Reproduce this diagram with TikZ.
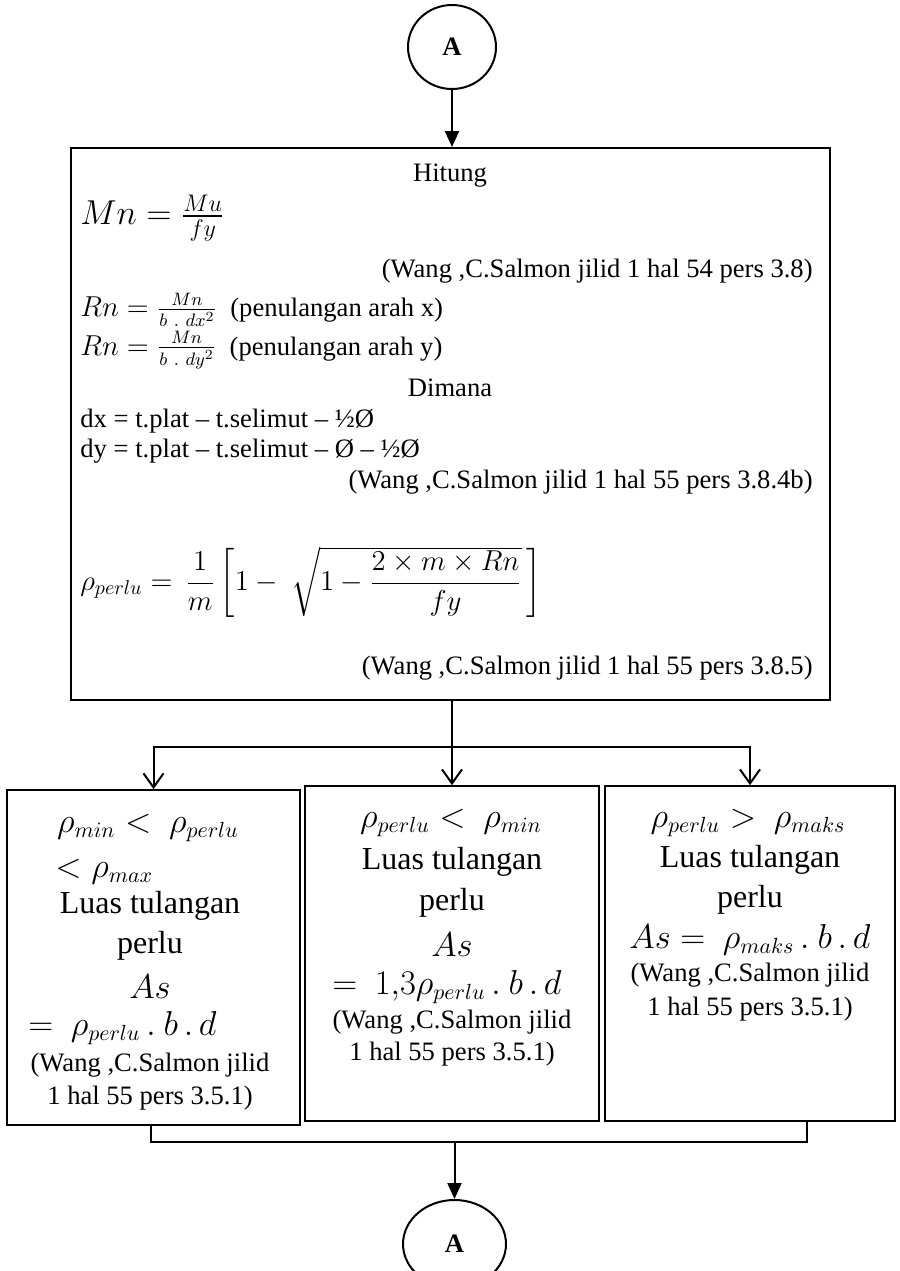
\documentclass[tikz,border=0pt]{standalone}
\usepackage{fontspec}
\setmainfont{Liberation Serif}
\usepackage{amsmath}
\usetikzlibrary{arrows.meta,shapes.geometric}
\begin{document}
\begin{tikzpicture}[x=0.5pt,y=-0.5pt,
  conn/.style={line width=1pt,line cap=rect},
  fillarrow/.style={conn,-{Triangle[length=8pt,width=7pt]}},
  barb/.style={conn,-{Straight Barb[length=7pt,width=10pt,line width=1pt]}},
  bigbox/.style={draw,line width=1pt,inner sep=0pt},
  subbox/.style={draw,line width=0.9pt,inner sep=0pt,minimum height=167.5pt},
  conn2/.style={ellipse,draw,line width=1pt,inner sep=0pt,font=\fontsize{13.3}{16}\selectfont\bfseries},
  tx/.style={inner sep=0pt,font=\fontsize{13.3}{16}\selectfont},
  bx/.style={inner sep=0pt,font=\fontsize{16}{19}\selectfont},
  cite/.style={inner sep=0pt,font=\fontsize{13.3}{16}\selectfont}]
\useasboundingbox (0,0) rectangle (900,1271);
\fill[white] (0,0) rectangle (900,1271);

% connector nodes
\node[conn2,minimum width=44pt,minimum height=42pt] (A1) at (452,47) {A};
\node[conn2,minimum width=51.5pt,minimum height=44pt] (A2) at (454.5,1244) {A};

% main box
\node[bigbox,minimum width=379.5pt,minimum height=276pt] (main) at (450.5,424) {};

\node[tx] (t1) at (450,176) {Hitung};
\node[tx,anchor=west,font=\fontsize{18}{21}\selectfont] (t2) at (80,218) {$Mn = \frac{Mu}{fy}$};
\node[tx,anchor=east] (t3) at (813,271) {(Wang ,C.Salmon jilid 1 hal 54 pers 3.8)};
\node[tx,anchor=west] (t4) at (80,310) {$Rn = \frac{Mn}{b\ .\ dx^2}$\ \ (penulangan arah x)};
\node[tx,anchor=west] (t5) at (80,350) {$Rn = \frac{Mn}{b\ .\ dy^2}$\ \ (penulangan arah y)};
\node[tx] (t6) at (450,388) {Dimana};
\node[tx,anchor=west] (t7) at (80,421) {dx = t.plat – t.selimut – ½Ø};
\node[tx,anchor=west] (t8) at (80,451) {dy = t.plat – t.selimut – Ø – ½Ø};
\node[tx,anchor=east] (t9) at (813,482) {(Wang ,C.Salmon jilid 1 hal 55 pers 3.8.4b)};
\node[tx,anchor=west,font=\fontsize{14}{17}\selectfont] (t10) at (80,582) {$\rho_{perlu} = \,\dfrac{1}{m}\left[1-\ \sqrt{1-\dfrac{2\times m\times Rn}{fy}}\,\right]$};
\node[tx,anchor=east] (t11) at (813,668) {(Wang ,C.Salmon jilid 1 hal 55 pers 3.8.5)};

% lower boxes
\node[subbox,minimum width=146.5pt] (b1) at (153.5,957.5) {};
\node[subbox,minimum width=147pt] (b2) at (452,953.5) {};
\node[subbox,minimum width=145pt] (b3) at (750,953.5) {};

% box 1 text
\node[bx] (l1) at (148,828) {$\rho_{min} <\ \rho_{perlu}$};
\node[bx,anchor=west] (l2) at (55,872) {$<\rho_{max}$};
\node[bx] (l3) at (150,906) {Luas tulangan};
\node[bx] (l4) at (150,946) {perlu};
\node[bx] (l5) at (150,987) {$As$};
\node[bx,anchor=west] (l6) at (28,1028) {$=\ \rho_{perlu}\,.\ b\,.\,d$};
\node[cite] (l7) at (150,1065) {(Wang ,C.Salmon jilid};
\node[cite] (l8) at (150,1098) {1 hal 55 pers 3.5.1)};

% box 2 text
\node[bx] (m1) at (451,823) {$\rho_{perlu} <\ \rho_{min}$};
\node[bx] (m2) at (452,862) {Luas tulangan};
\node[bx] (m3) at (452,903) {perlu};
\node[bx] (m4) at (452,945) {$As$};
\node[bx] (m5) at (447,987) {$=\ 1{,}3\rho_{perlu}\,.\ b\,.\,d$};
\node[cite] (m6) at (452,1022) {(Wang ,C.Salmon jilid};
\node[cite] (m7) at (452,1054) {1 hal 55 pers 3.5.1)};

% box 3 text
\node[bx] (r1) at (748,823) {$\rho_{perlu} >\ \rho_{maks}$};
\node[bx] (r2) at (750,860) {Luas tulangan};
\node[bx] (r3) at (750,900) {perlu};
\node[bx] (r4) at (750,940) {$As =\ \rho_{maks}\,.\ b\,.\,d$};
\node[cite] (r5) at (750,975) {(Wang ,C.Salmon jilid};
\node[cite] (r6) at (750,1009) {1 hal 55 pers 3.5.1)};

% connectors
\draw[fillarrow] (A1.south) -- (A1.south |- main.north);
\coordinate (brL) at (153.5,747);
\coordinate (brR) at (750,747);
\draw[conn] (brL) -- (brR);
\draw[barb] (b2.north |- main.south) -- (b2.north);
\draw[barb] (brL) -- (b1.north);
\draw[barb] (brR) -- (b3.north);
\coordinate (jL) at (151,1142);
\coordinate (jR) at (807,1142);
\draw[conn] (jL |- b1.south) -- (jL) -- (jR) -- (jR |- b3.south);
\draw[fillarrow] (A2.north |- jL) -- (A2.north);
\end{tikzpicture}
\end{document}
